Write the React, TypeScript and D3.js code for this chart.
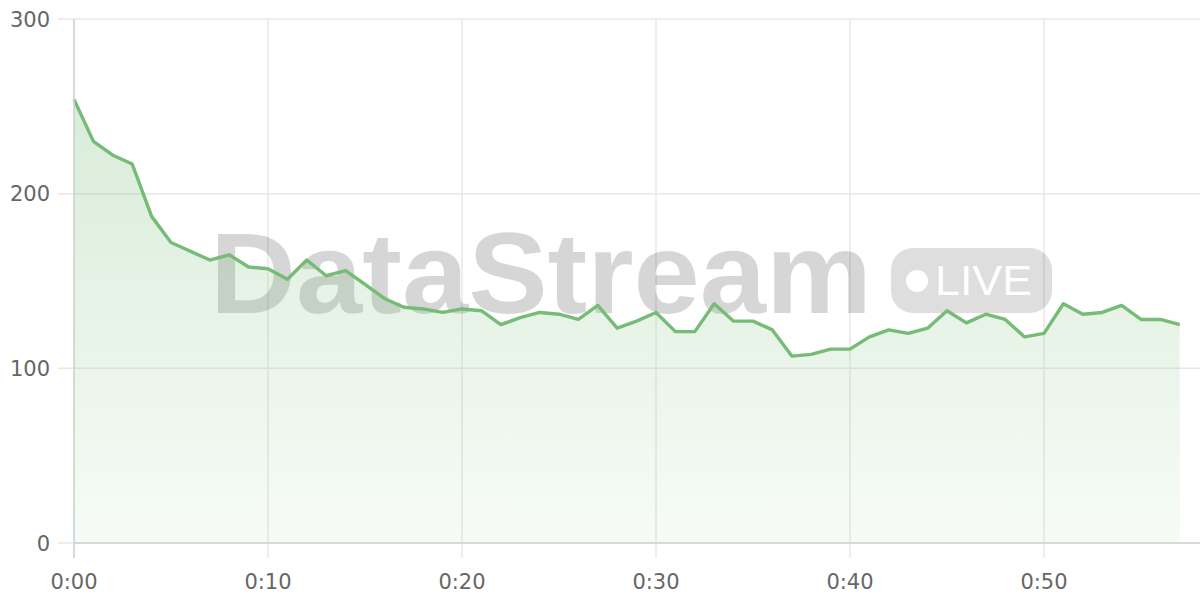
import * as d3 from "d3";
import React from "react";

// minutes since start, one sample per minute
const minutes = d3.range(0, 58);
const values = [
  254, 230, 222, 217, 187, 172, 167, 162, 165, 158,
  157, 151, 162, 153, 156, 148, 140, 135, 134, 132,
  134, 133, 125, 129, 132, 131, 128, 136, 123, 127,
  132, 121, 121, 137, 127, 127, 122, 107, 108, 111,
  111, 118, 122, 120, 123, 133, 126, 131, 128, 118,
  120, 137, 131, 132, 136, 128, 128, 125,
];
const yTicks = [0, 100, 200, 300];
const xTicks = [0, 10, 20, 30, 40, 50];

const width = 1200;
const height = 600;
const margin = { top: 19, right: 0, bottom: 57, left: 74 };

const App: React.FC = () => {
  const data = minutes.map((m, i) => ({ m, v: values[i] }));

  const x = d3
    .scaleLinear()
    .domain([0, 57])
    .range([margin.left, margin.left + 57 * 19.4]);
  const y = d3
    .scaleLinear()
    .domain([0, 300])
    .range([height - margin.bottom, margin.top]);

  const line = d3
    .line<{ m: number; v: number }>()
    .x((d) => x(d.m))
    .y((d) => y(d.v));
  const area = d3
    .area<{ m: number; v: number }>()
    .x((d) => x(d.m))
    .y0(y(0))
    .y1((d) => y(d.v));

  const fmt = (m: number) => `${Math.floor(m / 60)}:${String(m % 60).padStart(2, "0")}`;
  const font = "'DejaVu Sans', sans-serif";

  return (
    <svg
      width={width}
      height={height}
      style={{ position: "absolute", left: 0, top: 0, background: "#fff" }}
    >
      <defs>
        <linearGradient id="fillGrad" x1="0" y1="0" x2="0" y2="1">
          <stop offset="0%" stopColor="#76bb76" stopOpacity={0.28} />
          <stop offset="100%" stopColor="#76bb76" stopOpacity={0.06} />
        </linearGradient>
      </defs>

      {/* horizontal grid */}
      {yTicks.map((t) => (
        <line
          key={"gy" + t}
          x1={margin.left - 16}
          x2={width}
          y1={y(t)}
          y2={y(t)}
          stroke="#e8e8e8"
          strokeWidth={1.5}
        />
      ))}
      {/* vertical grid */}
      {xTicks.map((t) => (
        <line
          key={"gx" + t}
          x1={x(t)}
          x2={x(t)}
          y1={margin.top}
          y2={y(0) + 15}
          stroke="#e8e8e8"
          strokeWidth={1.5}
        />
      ))}

      {/* watermark, under the series */}
      <g pointerEvents="none">
        <text
          x={210}
          y={313}
          fontFamily="'Liberation Sans', Arial, sans-serif"
          fontWeight={700}
          fontSize={115}
          textLength={662}
          lengthAdjust="spacingAndGlyphs"
          fill="#000"
          fillOpacity={0.16}
        >
          DataStream
        </text>
        <rect x={891} y={248} width={161} height={65} rx={22} fill="#000" fillOpacity={0.13} />
        <circle cx={917} cy={281} r={11} fill="#fff" />
        <text
          x={935}
          y={295}
          fontFamily="'Liberation Sans', Arial, sans-serif"
          fontSize={43}
          textLength={97}
          lengthAdjust="spacingAndGlyphs"
          fill="#fff"
        >
          LIVE
        </text>
      </g>

      {/* area + line */}
      <path d={area(data) ?? ""} fill="url(#fillGrad)" />
      <path
        d={line(data) ?? ""}
        fill="none"
        stroke="#76bb76"
        strokeWidth={3.4}
        strokeLinejoin="round"
      />

      {/* axis lines */}
      <line x1={margin.left} x2={margin.left} y1={margin.top} y2={y(0) + 15} stroke="#cfd3cf" strokeWidth={1.5} />
      <line x1={margin.left} x2={width} y1={y(0)} y2={y(0)} stroke="#cfd3cf" strokeWidth={1.5} />

      {/* y labels */}
      {yTicks.map((t) => (
        <text
          key={"ly" + t}
          x={50}
          y={y(t)}
          dy="0.36em"
          textAnchor="end"
          fontFamily={font}
          fontSize={21}
          fill="#666"
        >
          {t}
        </text>
      ))}
      {/* x labels */}
      {xTicks.map((t) => (
        <text
          key={"lx" + t}
          x={x(t)}
          y={589}
          textAnchor="middle"
          fontFamily={font}
          fontSize={21}
          fill="#666"
        >
          {fmt(t)}
        </text>
      ))}
    </svg>
  );
};

export default App;
